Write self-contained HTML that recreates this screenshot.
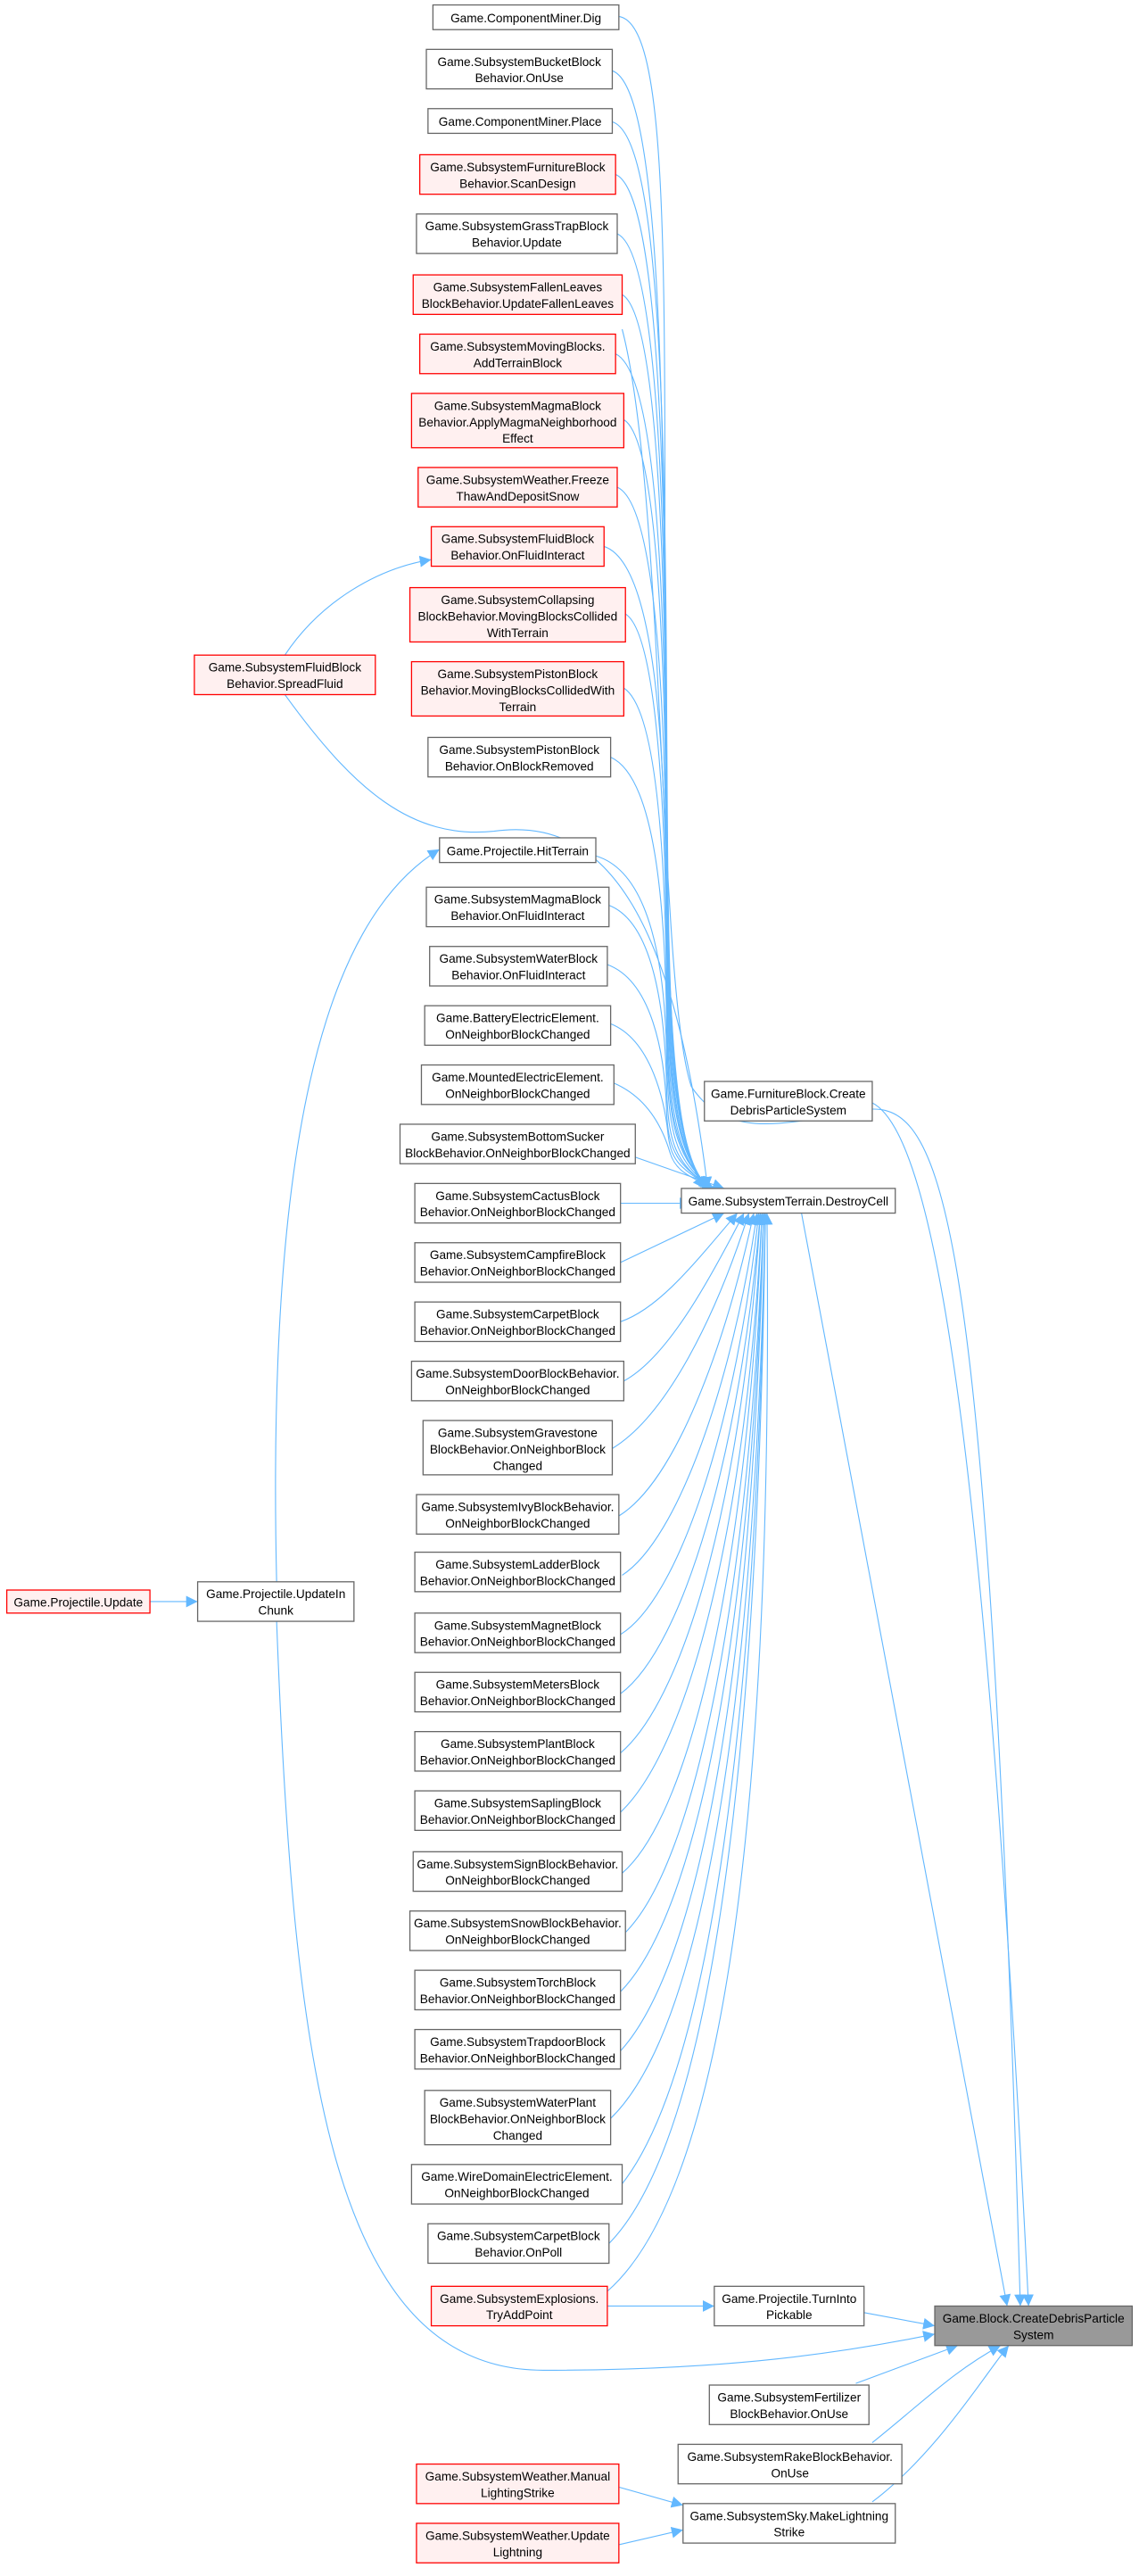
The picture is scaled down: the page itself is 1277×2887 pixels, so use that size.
<!DOCTYPE html>
<html><head><meta charset="utf-8"><style>
html,body{margin:0;padding:0;background:#fff;}
svg{display:block;}
text{font-family:"Liberation Sans",Arial,sans-serif;font-size:7.4px;fill:#000;text-anchor:middle;}
.n{fill:#fff;stroke:#666;stroke-width:0.7;}
.r{fill:#fff0f0;stroke:#ff0000;stroke-width:0.7;}
.g{fill:#999;stroke:#666;stroke-width:0.7;}
.e{fill:none;stroke:#63b8ff;stroke-width:0.6;}
</style></head><body>
<svg width="1277" height="2887" viewBox="0 0 692 1565" xmlns="http://www.w3.org/2000/svg">
<defs><marker id="a" markerUnits="userSpaceOnUse" markerWidth="8" markerHeight="8" refX="7" refY="3.5" orient="auto"><path d="M0,0 L7,3.5 L0,7 z" fill="#63b8ff"/></marker></defs>
<g class="edges">
<!-- above nodes to DestroyCell -->
<path class="e" marker-end="url(#a)" d="M376,10 C402,14 404,120 404,300 C404,560 404,690 428,722"/>
<path class="e" marker-end="url(#a)" d="M372,43 C398,52 403,200 404,400 C405,600 405,690 428,722"/>
<path class="e" marker-end="url(#a)" d="M372,74 C398,82 404,220 405,420 C406,610 406,690 429,722"/>
<path class="e" marker-end="url(#a)" d="M374,106 C398,116 404,260 405,440 C406,620 406,690 429,722"/>
<path class="e" marker-end="url(#a)" d="M375,142 C398,152 404,290 405,460 C406,620 406,692 429,722"/>
<path class="e" marker-end="url(#a)" d="M378,179 C398,190 404,320 405,480 C406,630 406,692 430,722"/>
<path class="e" marker-end="url(#a)" d="M374,215 C398,226 404,350 405,500 C406,640 406,694 430,722"/>
<path class="e" marker-end="url(#a)" d="M379,255 C398,266 404,380 405,520 C406,640 406,694 430,722"/>
<path class="e" marker-end="url(#a)" d="M375,296 C398,306 404,420 405,540 C406,650 406,696 431,722"/>
<path class="e" marker-end="url(#a)" d="M367,332 C398,342 404,450 405,560 C406,650 406,696 431,722"/>
<path class="e" marker-end="url(#a)" d="M380,373 C398,384 404,480 405,580 C406,660 406,698 431,722"/>
<path class="e" marker-end="url(#a)" d="M379,418 C398,430 404,510 405,600 C406,670 406,698 432,722"/>
<path class="e" marker-end="url(#a)" d="M371,460 C398,472 404,550 405,620 C406,680 408,700 432,722"/>
<path class="e" marker-end="url(#a)" d="M362,520 C396,530 404,590 405,640 C406,690 410,704 432,722"/>
<path class="e" marker-end="url(#a)" d="M370,550 C396,560 404,610 405,660 C406,695 410,706 432,722"/>
<path class="e" marker-end="url(#a)" d="M369,586 C396,596 404,640 405,675 C406,700 412,708 433,722"/>
<path class="e" marker-end="url(#a)" d="M371,622 C396,632 404,670 406,690 C408,706 414,710 433,722"/>
<path class="e" marker-end="url(#a)" d="M373,658 C396,668 404,690 407,700 C410,710 416,714 434,722"/>
<path class="e" marker-end="url(#a)" d="M386,703 L440,722"/>
<!-- below nodes -->
<path class="e" marker-end="url(#a)" d="M377,731 L420,731"/>
<path class="e" marker-end="url(#a)" d="M377,767 L440,737"/>
<path class="e" marker-end="url(#a)" d="M377,803 C400,795 420,770 448,737"/>
<path class="e" marker-end="url(#a)" d="M379,839 C405,825 430,780 452,737"/>
<path class="e" marker-end="url(#a)" d="M372,880 C405,860 435,800 455,737"/>
<path class="e" marker-end="url(#a)" d="M376,921 C410,900 440,820 458,737"/>
<path class="e" marker-end="url(#a)" d="M378,957 C412,935 445,840 460,737"/>
<path class="e" marker-end="url(#a)" d="M377,993 C414,970 448,860 461,737"/>
<path class="e" marker-end="url(#a)" d="M377,1029 C416,1000 450,880 462,737"/>
<path class="e" marker-end="url(#a)" d="M377,1065 C418,1030 452,900 462,737"/>
<path class="e" marker-end="url(#a)" d="M377,1101 C420,1060 454,920 463,737"/>
<path class="e" marker-end="url(#a)" d="M378,1138 C422,1100 455,940 463,737"/>
<path class="e" marker-end="url(#a)" d="M380,1174 C424,1130 456,960 464,737"/>
<path class="e" marker-end="url(#a)" d="M377,1210 C426,1160 457,980 464,737"/>
<path class="e" marker-end="url(#a)" d="M377,1246 C428,1190 458,1000 464,737"/>
<path class="e" marker-end="url(#a)" d="M371,1287 C430,1230 459,1020 465,737"/>
<path class="e" marker-end="url(#a)" d="M377,1328 C432,1260 460,1040 465,737"/>
<path class="e" marker-end="url(#a)" d="M369,1364 C434,1300 461,1060 465,737"/>
<path class="e" marker-end="url(#a)" d="M369,1392 C440,1330 470,1100 466,737"/>
<!-- SpreadFluid -->
<path class="e" marker-end="url(#a)" d="M173,398 C195,365 230,345 262,340"/>
<path class="e" marker-end="url(#a)" d="M173,422 C215,480 250,510 300,505 C370,495 410,560 430,722"/>
<!-- Projectile -->
<path class="e" marker-end="url(#a)" d="M91,973 L120,973"/>
<path class="e" marker-end="url(#a)" d="M168,961 C162,700 195,560 267,516"/>
<path class="e" marker-end="url(#a)" d="M168,985 C178,1250 200,1440 330,1440 C430,1440 500,1432 568,1418"/>
<path class="e" marker-end="url(#a)" d="M369,1401 L434,1401"/>
<path class="e" marker-end="url(#a)" d="M525,1405 L568,1413"/>
<path class="e" marker-end="url(#a)" d="M520,1448 L582,1425"/>
<path class="e" marker-end="url(#a)" d="M530,1484 C560,1460 580,1440 608,1425"/>
<path class="e" marker-end="url(#a)" d="M530,1520 C570,1490 600,1440 613,1425"/>
<path class="e" marker-end="url(#a)" d="M376,1511 L415,1522"/>
<path class="e" marker-end="url(#a)" d="M376,1546 L415,1537"/>
<!-- to CreateDebris from top -->
<path class="e" marker-end="url(#a)" d="M487,737 L612,1401"/>
<path class="e" marker-end="url(#a)" d="M530,670 C570,690 600,900 625,1401"/>
<path class="e" marker-end="url(#a)" d="M378,200 C404,300 400,600 420,660 C440,690 470,685 520,675 C570,665 600,700 620,1401"/>
</g>
<g>
<rect class="n" x="263" y="3" width="113" height="15"/><text x="319.5" y="13.5">Game.ComponentMiner.Dig</text>
<rect class="n" x="259" y="30" width="113" height="24"/><text x="315.5" y="40">Game.SubsystemBucketBlock</text><text x="315.5" y="50">Behavior.OnUse</text>
<rect class="n" x="260" y="66" width="112" height="15"/><text x="316" y="76.5">Game.ComponentMiner.Place</text>
<rect class="r" x="255" y="94" width="119" height="24"/><text x="314.5" y="104">Game.SubsystemFurnitureBlock</text><text x="314.5" y="114">Behavior.ScanDesign</text>
<rect class="n" x="253" y="130" width="122" height="24"/><text x="314" y="140">Game.SubsystemGrassTrapBlock</text><text x="314" y="150">Behavior.Update</text>
<rect class="r" x="251" y="167" width="127" height="24"/><text x="314.5" y="177">Game.SubsystemFallenLeaves</text><text x="314.5" y="187">BlockBehavior.UpdateFallenLeaves</text>
<rect class="r" x="255" y="203" width="119" height="24"/><text x="314.5" y="213">Game.SubsystemMovingBlocks.</text><text x="314.5" y="223">AddTerrainBlock</text>
<rect class="r" x="250" y="239" width="129" height="33"/><text x="314.5" y="249">Game.SubsystemMagmaBlock</text><text x="314.5" y="259">Behavior.ApplyMagmaNeighborhood</text><text x="314.5" y="269">Effect</text>
<rect class="r" x="254" y="284" width="121" height="24"/><text x="314.5" y="294">Game.SubsystemWeather.Freeze</text><text x="314.5" y="304">ThawAndDepositSnow</text>
<rect class="r" x="262" y="320" width="105" height="24"/><text x="314.5" y="330">Game.SubsystemFluidBlock</text><text x="314.5" y="340">Behavior.OnFluidInteract</text>
<rect class="r" x="249" y="357" width="131" height="33"/><text x="314.5" y="367">Game.SubsystemCollapsing</text><text x="314.5" y="377">BlockBehavior.MovingBlocksCollided</text><text x="314.5" y="387">WithTerrain</text>
<rect class="r" x="250" y="402" width="129" height="33"/><text x="314.5" y="412">Game.SubsystemPistonBlock</text><text x="314.5" y="422">Behavior.MovingBlocksCollidedWith</text><text x="314.5" y="432">Terrain</text>
<rect class="n" x="260" y="448" width="111" height="24"/><text x="315.5" y="458">Game.SubsystemPistonBlock</text><text x="315.5" y="468">Behavior.OnBlockRemoved</text>
<rect class="n" x="267" y="509" width="95" height="15"/><text x="314.5" y="519.5">Game.Projectile.HitTerrain</text>
<rect class="n" x="259" y="539" width="111" height="24"/><text x="314.5" y="549">Game.SubsystemMagmaBlock</text><text x="314.5" y="559">Behavior.OnFluidInteract</text>
<rect class="n" x="261" y="575" width="108" height="24"/><text x="315" y="585">Game.SubsystemWaterBlock</text><text x="315" y="595">Behavior.OnFluidInteract</text>
<rect class="n" x="258" y="611" width="113" height="24"/><text x="314.5" y="621">Game.BatteryElectricElement.</text><text x="314.5" y="631">OnNeighborBlockChanged</text>
<rect class="n" x="256" y="647" width="117" height="24"/><text x="314.5" y="657">Game.MountedElectricElement.</text><text x="314.5" y="667">OnNeighborBlockChanged</text>
<rect class="n" x="243" y="683" width="143" height="24"/><text x="314.5" y="693">Game.SubsystemBottomSucker</text><text x="314.5" y="703">BlockBehavior.OnNeighborBlockChanged</text>
<rect class="n" x="252" y="719" width="125" height="24"/><text x="314.5" y="729">Game.SubsystemCactusBlock</text><text x="314.5" y="739">Behavior.OnNeighborBlockChanged</text>
<rect class="n" x="252" y="755" width="125" height="24"/><text x="314.5" y="765">Game.SubsystemCampfireBlock</text><text x="314.5" y="775">Behavior.OnNeighborBlockChanged</text>
<rect class="n" x="252" y="791" width="125" height="24"/><text x="314.5" y="801">Game.SubsystemCarpetBlock</text><text x="314.5" y="811">Behavior.OnNeighborBlockChanged</text>
<rect class="n" x="250" y="827" width="129" height="24"/><text x="314.5" y="837">Game.SubsystemDoorBlockBehavior.</text><text x="314.5" y="847">OnNeighborBlockChanged</text>
<rect class="n" x="257" y="863" width="115" height="33"/><text x="314.5" y="873">Game.SubsystemGravestone</text><text x="314.5" y="883">BlockBehavior.OnNeighborBlock</text><text x="314.5" y="893">Changed</text>
<rect class="n" x="253" y="908" width="123" height="24"/><text x="314.5" y="918">Game.SubsystemIvyBlockBehavior.</text><text x="314.5" y="928">OnNeighborBlockChanged</text>
<rect class="n" x="252" y="943" width="125" height="24"/><text x="314.5" y="953">Game.SubsystemLadderBlock</text><text x="314.5" y="963">Behavior.OnNeighborBlockChanged</text>
<rect class="n" x="252" y="980" width="125" height="24"/><text x="314.5" y="990">Game.SubsystemMagnetBlock</text><text x="314.5" y="1000">Behavior.OnNeighborBlockChanged</text>
<rect class="n" x="252" y="1016" width="125" height="24"/><text x="314.5" y="1026">Game.SubsystemMetersBlock</text><text x="314.5" y="1036">Behavior.OnNeighborBlockChanged</text>
<rect class="n" x="252" y="1052" width="125" height="24"/><text x="314.5" y="1062">Game.SubsystemPlantBlock</text><text x="314.5" y="1072">Behavior.OnNeighborBlockChanged</text>
<rect class="n" x="252" y="1088" width="125" height="24"/><text x="314.5" y="1098">Game.SubsystemSaplingBlock</text><text x="314.5" y="1108">Behavior.OnNeighborBlockChanged</text>
<rect class="n" x="251" y="1125" width="127" height="24"/><text x="314.5" y="1135">Game.SubsystemSignBlockBehavior.</text><text x="314.5" y="1145">OnNeighborBlockChanged</text>
<rect class="n" x="249" y="1161" width="131" height="24"/><text x="314.5" y="1171">Game.SubsystemSnowBlockBehavior.</text><text x="314.5" y="1181">OnNeighborBlockChanged</text>
<rect class="n" x="252" y="1197" width="125" height="24"/><text x="314.5" y="1207">Game.SubsystemTorchBlock</text><text x="314.5" y="1217">Behavior.OnNeighborBlockChanged</text>
<rect class="n" x="252" y="1233" width="125" height="24"/><text x="314.5" y="1243">Game.SubsystemTrapdoorBlock</text><text x="314.5" y="1253">Behavior.OnNeighborBlockChanged</text>
<rect class="n" x="258" y="1270" width="113" height="33"/><text x="314.5" y="1280">Game.SubsystemWaterPlant</text><text x="314.5" y="1290">BlockBehavior.OnNeighborBlock</text><text x="314.5" y="1300">Changed</text>
<rect class="n" x="250" y="1315" width="128" height="24"/><text x="314" y="1325">Game.WireDomainElectricElement.</text><text x="314" y="1335">OnNeighborBlockChanged</text>
<rect class="n" x="260" y="1351" width="110" height="24"/><text x="315" y="1361">Game.SubsystemCarpetBlock</text><text x="315" y="1371">Behavior.OnPoll</text>
<rect class="r" x="262" y="1389" width="107" height="24"/><text x="315.5" y="1399">Game.SubsystemExplosions.</text><text x="315.5" y="1409">TryAddPoint</text>
<rect class="r" x="253" y="1497" width="123" height="24"/><text x="314.5" y="1507">Game.SubsystemWeather.Manual</text><text x="314.5" y="1517">LightingStrike</text>
<rect class="r" x="253" y="1533" width="123" height="24"/><text x="314.5" y="1543">Game.SubsystemWeather.Update</text><text x="314.5" y="1553">Lightning</text>

<rect class="r" x="118" y="398" width="110" height="24"/><text x="173" y="408">Game.SubsystemFluidBlock</text><text x="173" y="418">Behavior.SpreadFluid</text>
<rect class="n" x="120" y="961" width="95" height="24"/><text x="167.5" y="971">Game.Projectile.UpdateIn</text><text x="167.5" y="981">Chunk</text>
<rect class="r" x="4" y="966" width="87" height="14"/><text x="47.5" y="976">Game.Projectile.Update</text>

<rect class="n" x="428" y="657" width="102" height="24"/><text x="479" y="667">Game.FurnitureBlock.Create</text><text x="479" y="677">DebrisParticleSystem</text>
<rect class="n" x="414" y="722" width="130" height="15"/><text x="479" y="732.5">Game.SubsystemTerrain.DestroyCell</text>
<rect class="n" x="434" y="1389" width="91" height="24"/><text x="479.5" y="1399">Game.Projectile.TurnInto</text><text x="479.5" y="1409">Pickable</text>
<rect class="n" x="431" y="1449" width="97" height="24"/><text x="479.5" y="1459">Game.SubsystemFertilizer</text><text x="479.5" y="1469">BlockBehavior.OnUse</text>
<rect class="n" x="412" y="1485" width="136" height="24"/><text x="480" y="1495">Game.SubsystemRakeBlockBehavior.</text><text x="480" y="1505">OnUse</text>
<rect class="n" x="415" y="1521" width="129" height="24"/><text x="479.5" y="1531">Game.SubsystemSky.MakeLightning</text><text x="479.5" y="1541">Strike</text>
<rect class="g" x="568" y="1401" width="120" height="24"/><text x="628" y="1411">Game.Block.CreateDebrisParticle</text><text x="628" y="1421">System</text>
</g>
</svg>
</body></html>
